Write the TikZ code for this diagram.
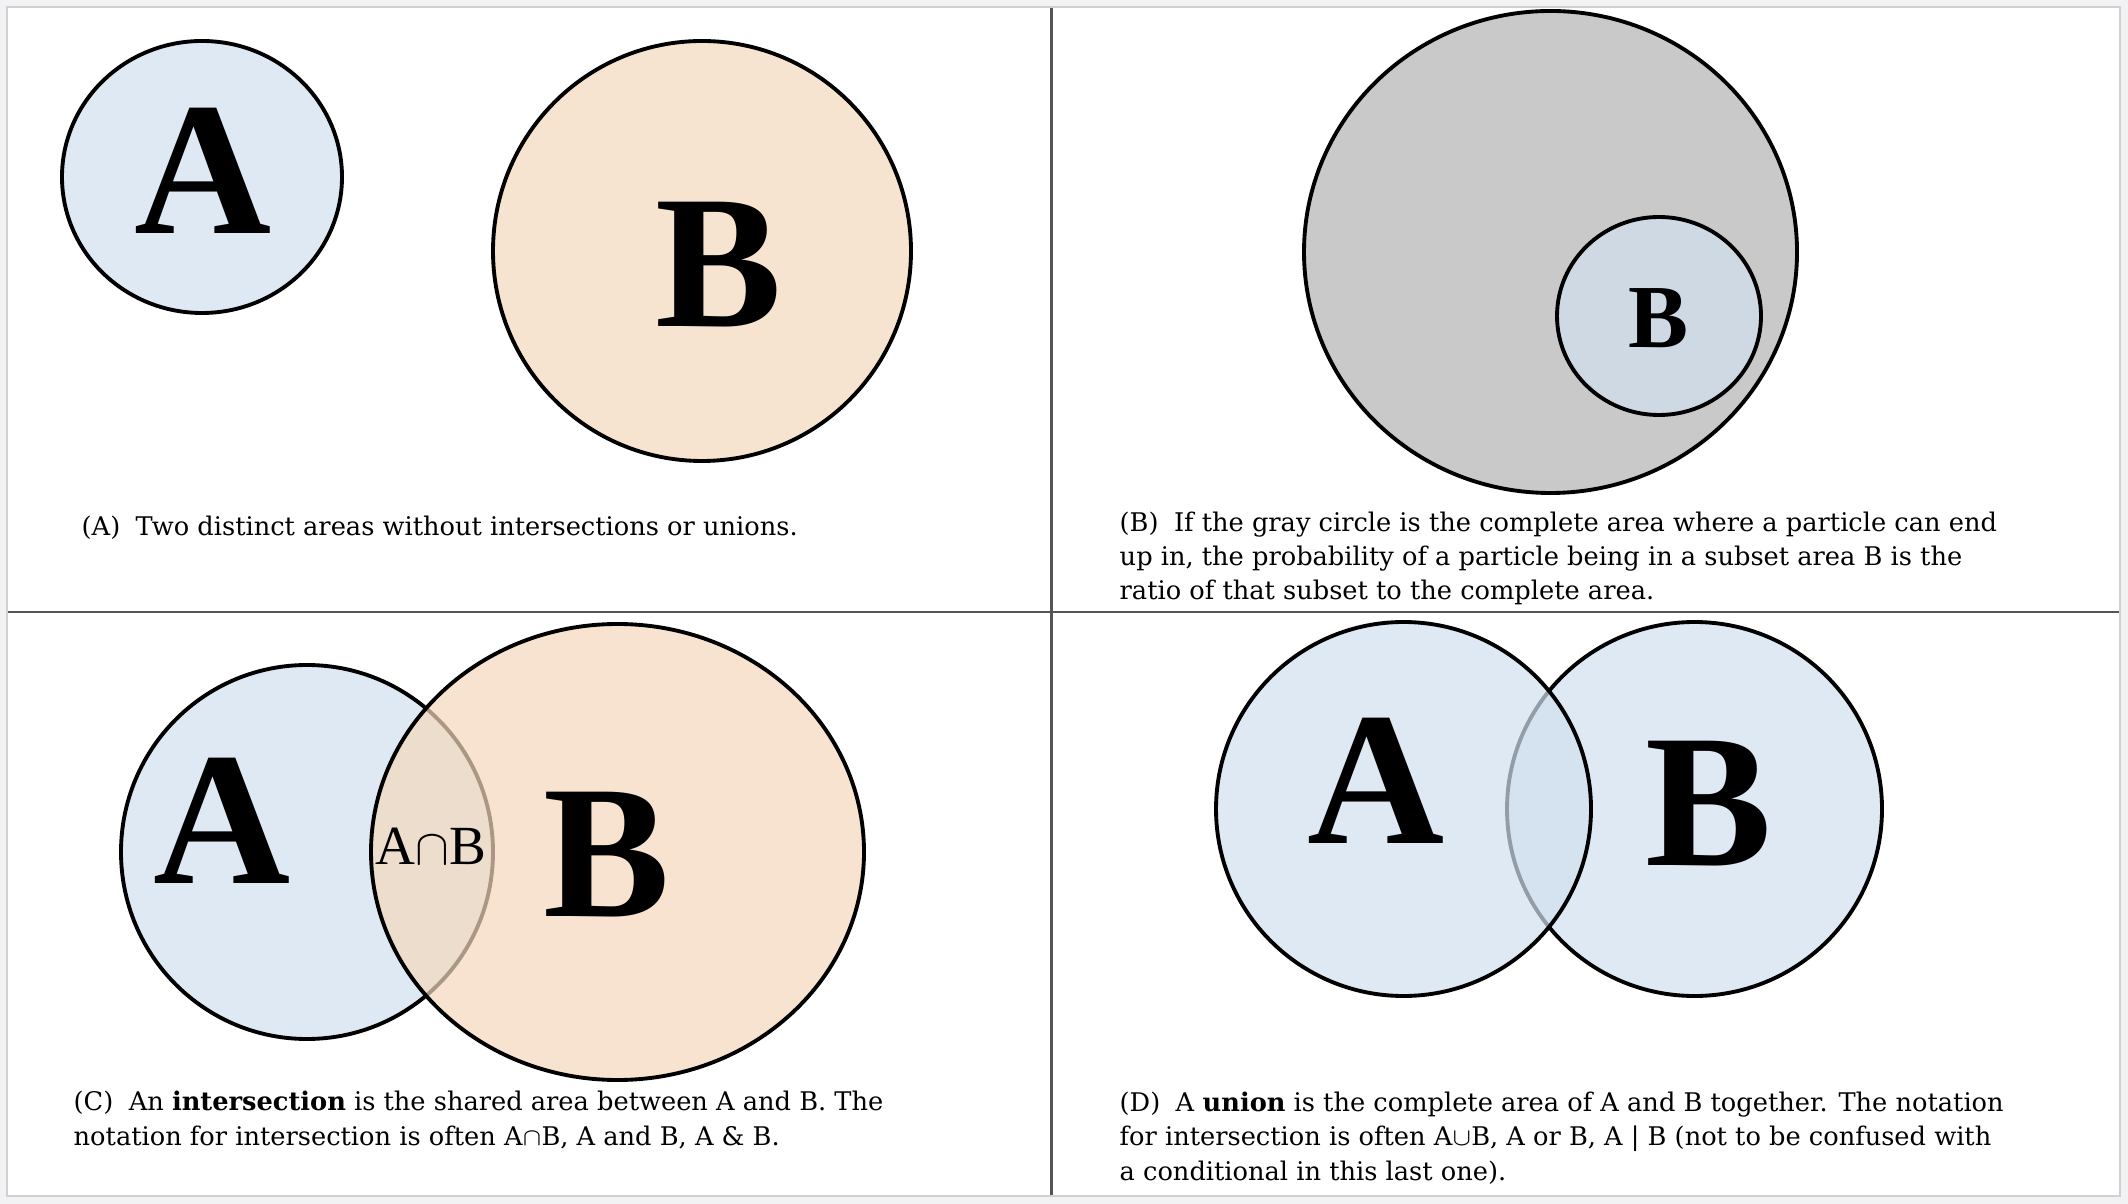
\documentclass[tikz,border=0pt]{standalone}
\usepackage{fontspec}
\setmainfont{DejaVu Serif}
\newfontfamily\letterfont{Liberation Serif}
\definecolor{VennBlue}{HTML}{DFE9F4}
\definecolor{VennBlueDeep}{HTML}{D1E0EF}
\definecolor{VennPeach}{HTML}{F7E4D0}
\definecolor{VennPeachDeep}{HTML}{F4D8BC}
\definecolor{VennGray}{HTML}{C9C9C9}
\definecolor{PageGray}{HTML}{F2F2F4}
\definecolor{FrameGray}{HTML}{D0D0D0}
\definecolor{RuleGray}{HTML}{555555}

\tikzset{
    set line/.style={line width=1.1pt},
    big letter/.style={font=\letterfont\fontsize{54pt}{54pt}\selectfont\bfseries, inner sep=0pt, anchor=base},
    caption/.style={font=\fontsize{7.3pt}{9.8pt}\selectfont, align=left, anchor=base west, inner sep=0pt},
}

\begin{document}
\begin{tikzpicture}[x=0.01cm, y=-0.01cm]

    % ========== Page and frame ==========
    \fill[PageGray] (0,0) rectangle (2128,1204);
    \draw[FrameGray, line width=0.8pt, fill=white] (7,7) rectangle (2120,1196);
    \useasboundingbox (0,0) rectangle (2128,1204);

    % Panel dividers
    \draw[RuleGray, line width=0.85pt] (1051,8) -- (1051,1195);
    \draw[RuleGray, line width=0.85pt] (8,612) -- (2119,612);

    % ========== (A): separate areas ==========
    \begin{scope}[shift={(0,0)}]
        \filldraw[VennBlue, draw=black, set line] (202,177) ellipse (140 and 136);
        \filldraw[VennPeach, draw=black, set line] (702,251) ellipse (209 and 210);
        \node[big letter] (labelA) at (203,234) {A};
        \node[big letter] (labelB) at (719,327) {B};
        \node[caption] (captionA) at (81,536)
            {(A)\hspace{0.6em}Two distinct areas without intersections or unions.};
    \end{scope}

    % ========== (B): subset of the complete area ==========
    \begin{scope}[shift={(1050,0)}]
        \filldraw[VennGray, draw=black, set line] (500.5,252) ellipse (246.5 and 241);
        \filldraw[VennBlueDeep, fill opacity=0.7, draw=black, set line] (609,316) ellipse (102 and 99);
        \node[big letter, font=\letterfont\fontsize{25.6pt}{25.6pt}\selectfont\bfseries] (subsetB) at (608,348) {B};
        % base anchor of a multi-line node sits on its last line
        \node[caption] (captionB) at (69,600)
            {(B)\hspace{0.6em}If the gray circle is the complete area where a particle can end\\
             up in, the probability of a particle being in a subset area B is the\\
             ratio of that subset to the complete area.};
    \end{scope}

    % ========== (C): intersection ==========
    \begin{scope}[shift={(0,612)}]
        \filldraw[VennBlue, draw=black, set line] (307,240) ellipse (186 and 187);
        \filldraw[VennPeachDeep, fill opacity=0.7, draw=black, set line] (617.5,240) ellipse (246.5 and 228);
        \node[big letter] (labelA) at (222,271) {A};
        \node[big letter] (labelB) at (607,304) {B};
        \node[inner sep=0pt, anchor=base, font=\letterfont\fontsize{15.7pt}{15.7pt}\selectfont] (labelAB) at (431,252) {A$\cap$B};
        \node[caption] (captionC) at (73,533)
            {(C)\hspace{0.6em}An \textbf{intersection} is the shared area between A and B. The\\
             notation for intersection is often A$\cap$B, A and B, A \& B.};
    \end{scope}

    % ========== (D): union ==========
    \begin{scope}[shift={(1050,612)}]
        \filldraw[VennBlue, draw=black, set line] (644.5,197) ellipse (187.5 and 187);
        \filldraw[VennBlueDeep, fill opacity=0.7, draw=black, set line] (353.5,197) ellipse (187.5 and 187);
        \node[big letter] (labelA) at (326,231) {A};
        \node[big letter] (labelB) at (659,253) {B};
        \node[caption] (captionD) at (69,568)
            {(D)\hspace{0.6em}A \textbf{union} is the complete area of A and B together. The notation\\
             for intersection is often A$\cup$B, A or B, A | B (not to be confused with\\
             a conditional in this last one).};
    \end{scope}

\end{tikzpicture}
\end{document}
